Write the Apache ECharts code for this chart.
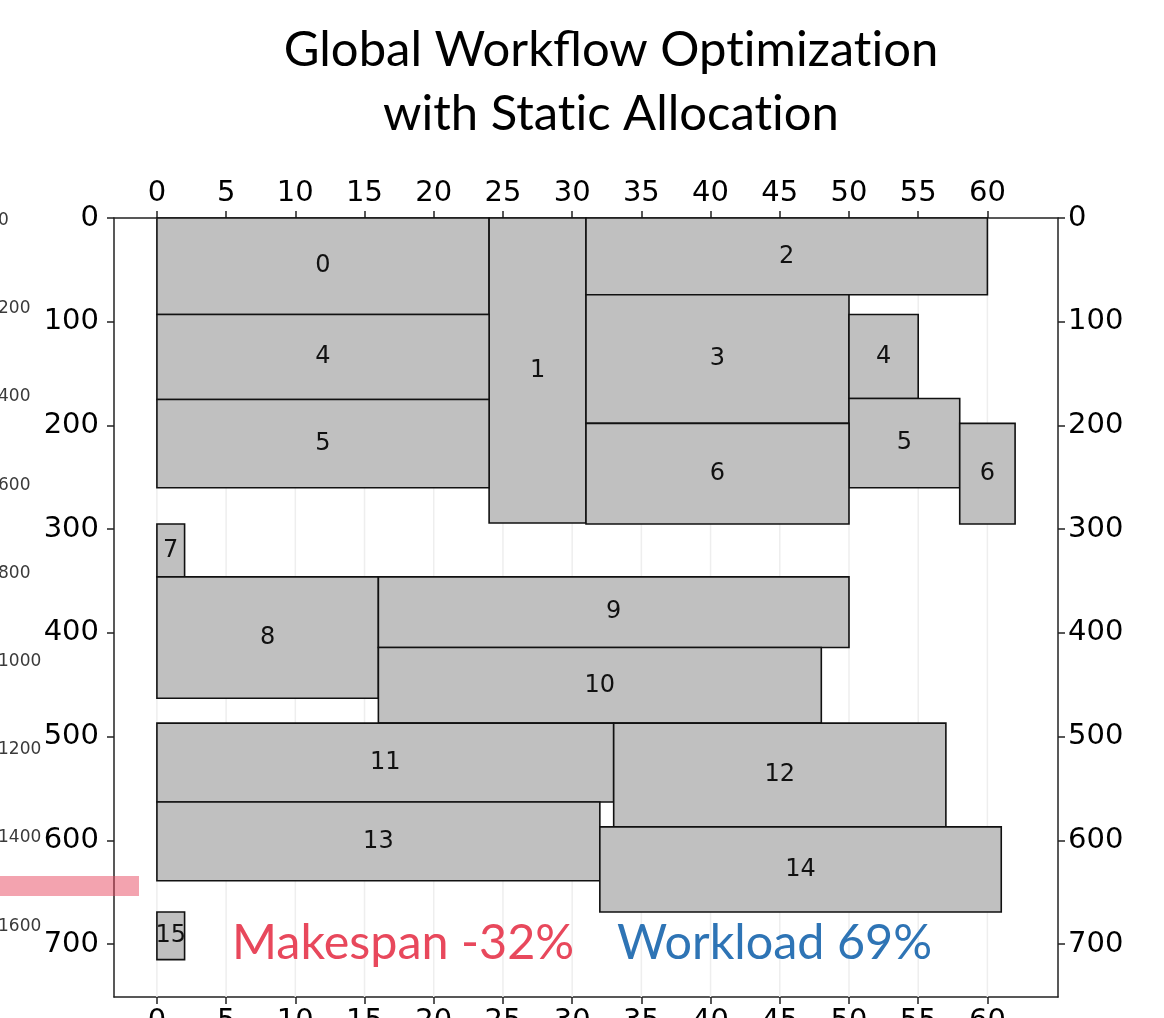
<!DOCTYPE html>
<html>
<head>
<meta charset="utf-8">
<script src="https://cdn.jsdelivr.net/npm/echarts@6/dist/echarts.min.js"></script>
<style>
  html, body { margin: 0; padding: 0; background: #ffffff; }
  #chart { width: 1164px; height: 1018px; }
</style>
</head>
<body>
<div id="chart"></div>
<script>
// tasks: label, start/end on x, top/bottom on y
const taskLabels = ['0', '1', '2', '3', '4', '4', '5', '5', '6', '6', '7', '8', '9', '10', '11', '12', '13', '14', '15'];
const taskStart = [0, 24, 31, 31, 0, 50, 0, 50, 31, 58, 0, 0, 16, 16, 0, 33, 0, 32, 0];
const taskEnd = [24, 31, 60, 50, 24, 55, 24, 58, 50, 62, 2, 16, 50, 48, 33, 57, 32, 61, 2];
const taskTop = [0, 0, 0, 74, 93, 93, 175, 174, 198, 198, 295, 346, 346, 414, 487, 487, 563, 587, 669];
const taskBottom = [93, 294, 74, 198, 175, 174, 260, 260, 295, 295, 346, 463, 414, 487, 563, 587, 639, 669, 715];

const xTicks = [0, 5, 10, 15, 20, 25, 30, 35, 40, 45, 50, 55, 60];
const yTicks = [0, 100, 200, 300, 400, 500, 600, 700];

// labels of the neighbouring chart that is cut off at the left edge
const sideLabels = ['0', '200', '400', '600', '800', '1000', '1200', '1400', '1600'];

// \u200C keeps Lato from drawing its "ti" ligature
const titleLines = ['Global Workflow Opt\u200Cimizat\u200Cion', 'with Stat\u200Cic Allocat\u200Cion'];
const makespanText = 'Makespan -32%';
const workloadText = 'Workload 69%';

const AXIS_COLOR = '#222222';

function xAxisAt(position) {
  return {
    type: 'value',
    position: position,
    min: -3.1,
    max: 65.1,
    axisLine: { onZero: false, lineStyle: { color: AXIS_COLOR, width: 1.5 } },
    axisTick: { customValues: xTicks, length: 7, lineStyle: { color: AXIS_COLOR, width: 1.5 } },
    axisLabel: { customValues: xTicks, color: '#000', fontSize: 29, fontFamily: 'DejaVu Sans', margin: 10 },
    splitLine: { show: false }
  };
}

function yAxisAt(position, margin) {
  return {
    type: 'value',
    position: position,
    inverse: true,
    min: 0,
    max: 751,
    axisLine: { onZero: false, lineStyle: { color: AXIS_COLOR, width: 1.5 } },
    axisTick: { customValues: yTicks, length: 7, lineStyle: { color: AXIS_COLOR, width: 1.5 } },
    axisLabel: { customValues: yTicks, color: '#000', fontSize: 29, fontFamily: 'DejaVu Sans', margin: margin },
    splitLine: { show: false }
  };
}

function renderGridLine(params, api) {
  const box = params.coordSys;
  const x = api.coord([api.value(0), 0])[0];
  return {
    type: 'line',
    shape: { x1: x, y1: box.y, x2: x, y2: box.y + box.height },
    style: { stroke: '#eeeeee', lineWidth: 1.5 }
  };
}

function renderTask(params, api) {
  const p0 = api.coord([api.value(0), api.value(2)]);
  const p1 = api.coord([api.value(1), api.value(3)]);
  const x = Math.min(p0[0], p1[0]);
  const y = Math.min(p0[1], p1[1]);
  const w = Math.abs(p1[0] - p0[0]);
  const h = Math.abs(p1[1] - p0[1]);
  return {
    type: 'group',
    children: [
      {
        type: 'rect',
        shape: { x: x, y: y, width: w, height: h },
        style: { fill: '#c0c0c0', stroke: '#111111', lineWidth: 1.6 }
      },
      {
        type: 'text',
        style: {
          x: x + w / 2,
          y: y + h / 2,
          text: taskLabels[params.dataIndex],
          align: 'center',
          verticalAlign: 'middle',
          font: '24px "DejaVu Sans"',
          fill: '#111111'
        }
      }
    ]
  };
}

const chart = echarts.init(document.getElementById('chart'));

const sideGraphics = sideLabels.map((label, i) => ({
  type: 'text',
  left: -2,
  top: 212 + i * 88.2,
  style: { text: label, font: '17px "DejaVu Sans"', fill: '#3a3a3a' }
}));

chart.setOption({
  animation: false,
  backgroundColor: '#ffffff',
  grid: { left: 114, top: 218, width: 944, height: 779, containLabel: false, outerBoundsMode: 'none' },
  xAxis: [xAxisAt('top'), xAxisAt('bottom')],
  yAxis: [yAxisAt('left', 15), yAxisAt('right', 10)],
  series: [
    {
      type: 'custom',
      name: 'grid',
      silent: true,
      z: 1,
      renderItem: renderGridLine,
      clip: true,
      data: xTicks.map((v) => [v]),
      encode: { x: 0 }
    },
    {
      type: 'custom',
      name: 'tasks',
      z: 2,
      renderItem: renderTask,
      data: taskStart.map((s, i) => [s, taskEnd[i], taskTop[i], taskBottom[i]]),
      encode: { x: [0, 1], y: [2, 3] }
    }
  ],
  graphic: [
    {
      type: 'text',
      x: 611,
      y: 50,
      style: { text: titleLines[0], align: 'center', verticalAlign: 'middle', font: '49px Lato', fill: '#000' }
    },
    {
      type: 'text',
      x: 611,
      y: 114,
      style: { text: titleLines[1], align: 'center', verticalAlign: 'middle', font: '49px Lato', fill: '#000' }
    },
    {
      type: 'text',
      x: 232,
      y: 943,
      z: 10,
      style: { text: makespanText, verticalAlign: 'middle', font: '48.5px Lato', fill: '#e8485c' }
    },
    {
      type: 'text',
      x: 617,
      y: 943,
      z: 10,
      style: { text: workloadText, verticalAlign: 'middle', font: '48.5px Lato', fill: '#2e74b5' }
    },
    {
      type: 'rect',
      z: 10,
      shape: { x: 0, y: 876, width: 139, height: 20 },
      style: { fill: 'rgba(232, 72, 96, 0.5)' }
    }
  ].concat(sideGraphics)
});
</script>
</body>
</html>
